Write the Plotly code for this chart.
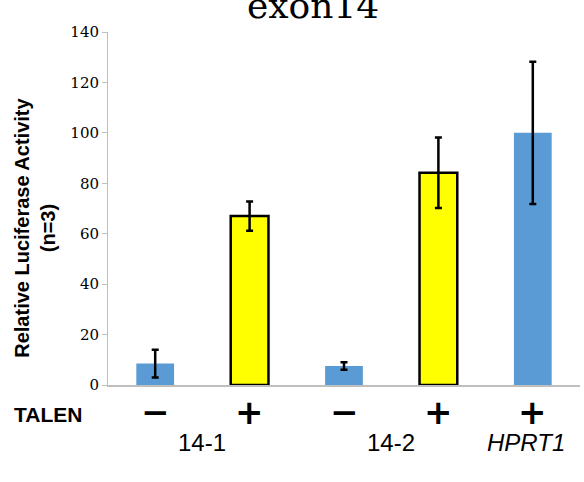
import plotly.graph_objects as go

# Data
positions = [0, 1, 2, 3, 4]
values = [8.5, 67.0, 7.5, 84.2, 100.0]
errors = [5.5, 5.8, 1.5, 14.0, 28.2]
colors = ["#5B9BD5", "#FFFF00", "#5B9BD5", "#FFFF00", "#5B9BD5"]
line_widths = [0, 2.5, 0, 2.5, 0]
talen_signs = ["−", "+", "−", "+", "+"]
group_labels = ["14-1", "14-2", "<i>HPRT1</i>"]
group_centers = [0.5, 2.5, 3.93]
y_ticks = [0, 20, 40, 60, 80, 100, 120, 140]

fig = go.Figure()
fig.add_trace(go.Bar(
    x=positions, y=values, width=0.4,
    marker=dict(color=colors, line=dict(color="black", width=line_widths)),
    error_y=dict(type="data", array=errors, visible=True, color="black",
                 thickness=2.5, width=3.5),
    showlegend=False,
))

annotations = []
# title
annotations.append(dict(text="exon14", xref="paper", yref="paper", x=0.435, y=1.075,
                        xanchor="center", yanchor="middle", showarrow=False,
                        font=dict(family="DejaVu Serif", size=36, color="black")))
# y axis title
annotations.append(dict(text="<b>Relative Luciferase Activity<br>(n=3)</b>",
                        xref="paper", yref="paper", x=-0.155, y=0.445,
                        xanchor="center", yanchor="middle", textangle=-90,
                        showarrow=False,
                        font=dict(family="Liberation Sans", size=20, color="black")))
# TALEN label
annotations.append(dict(text="<b>TALEN</b>", xref="paper", yref="paper", x=-0.127,
                        y=-29 / 353,
                        xanchor="center", yanchor="middle", showarrow=False,
                        font=dict(family="Liberation Sans", size=21, color="black")))
for p, s in zip(positions, talen_signs):
    annotations.append(dict(text="<b>" + s + "</b>", xref="x", yref="paper", x=p,
                            y=-27 / 353,
                            xanchor="center", yanchor="middle", showarrow=False,
                            font=dict(family="DejaVu Sans", size=34, color="black")))
for c, g in zip(group_centers, group_labels):
    annotations.append(dict(text=g, xref="x", yref="paper", x=c, y=-57 / 353,
                            xanchor="center", yanchor="middle", showarrow=False,
                            font=dict(family="Liberation Sans", size=24, color="black")))

fig.update_layout(
    width=584, height=482,
    margin=dict(l=108, r=4, t=32, b=97),
    paper_bgcolor="white", plot_bgcolor="white",
    annotations=annotations,
    xaxis=dict(range=[-0.5, 4.5], showticklabels=False, ticks="", showgrid=False,
               zeroline=False, showline=True, linecolor="#BFBFBF", linewidth=1.5),
    yaxis=dict(range=[0, 140], tickvals=y_ticks, showgrid=False, zeroline=False,
               showline=True, linecolor="#BFBFBF", linewidth=1, ticks="outside",
               ticklen=5, tickcolor="#BFBFBF",
               tickfont=dict(family="DejaVu Serif", size=15, color="black")),
)

fig.write_html("out.html")
